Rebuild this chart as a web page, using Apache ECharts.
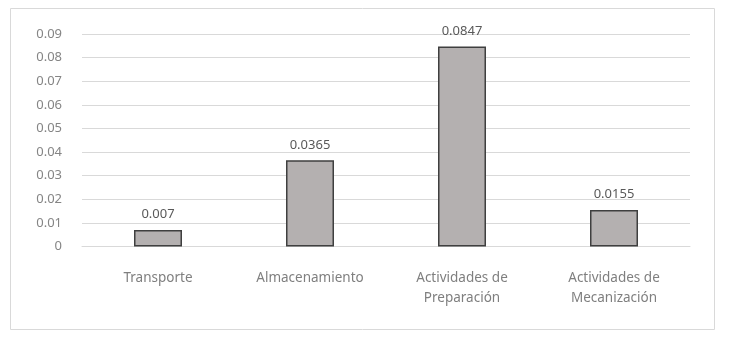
<!DOCTYPE html>
<html lang="es">
<head>
    <meta charset="UTF-8">
    <title>barras</title>
    <script src="https://cdn.jsdelivr.net/npm/echarts@6/dist/echarts.min.js"></script>
    <style>
        html, body { margin: 0; padding: 0; background: #fff; }
    </style>
</head>
<body>
<div id="main" style="width: 732px;height: 342px"></div>
<script>
    var categorias = ["Transporte", "Almacenamiento", "Actividades de\nPreparación", "Actividades de\nMecanización"];
    var valores = [0.007, 0.0365, 0.0847, 0.0155];
    var etiquetas = ["0.007", "0.0365", "0.0847", "0.0155"];

    var myChart = echarts.init(document.getElementById('main'));

    var option = {
        animation: false,
        textStyle: { fontFamily: 'Noto Sans' },
        graphic: [{
            type: 'rect',
            shape: { x: 10.5, y: 8.5, width: 704, height: 321 },
            style: { fill: 'none', stroke: '#d9d9d9', lineWidth: 1 }
        }],
        grid: {
            left: 82,
            right: 42,
            top: 34,
            bottom: 95.5
        },
        xAxis: {
            type: 'category',
            data: categorias,
            axisLine: { show: true, lineStyle: { color: '#d9d9d9' } },
            axisTick: { show: false },
            axisLabel: {
                interval: 0,
                margin: 22,
                color: '#7f7f7f',
                fontSize: 13.5,
                lineHeight: 20
            }
        },
        yAxis: {
            type: 'value',
            min: 0,
            max: 0.09,
            interval: 0.01,
            axisLine: { show: false },
            axisTick: { show: false },
            splitLine: { lineStyle: { color: '#d9d9d9' } },
            axisLabel: {
                margin: 20,
                color: '#858585',
                fontSize: 13,
                formatter: function (v) {
                    return v === 0 ? '0' : v.toFixed(2);
                }
            }
        },
        series: [{
            type: 'bar',
            barWidth: 48,
            data: valores,
            itemStyle: {
                color: '#b4b0b0',
                borderColor: '#3f3f3f',
                borderWidth: 1.5
            },
            label: {
                show: true,
                position: 'top',
                distance: 9,
                color: '#595959',
                fontSize: 13,
                formatter: function (p) {
                    return etiquetas[p.dataIndex];
                }
            }
        }]
    };

    myChart.setOption(option);
</script>
</body>
</html>
